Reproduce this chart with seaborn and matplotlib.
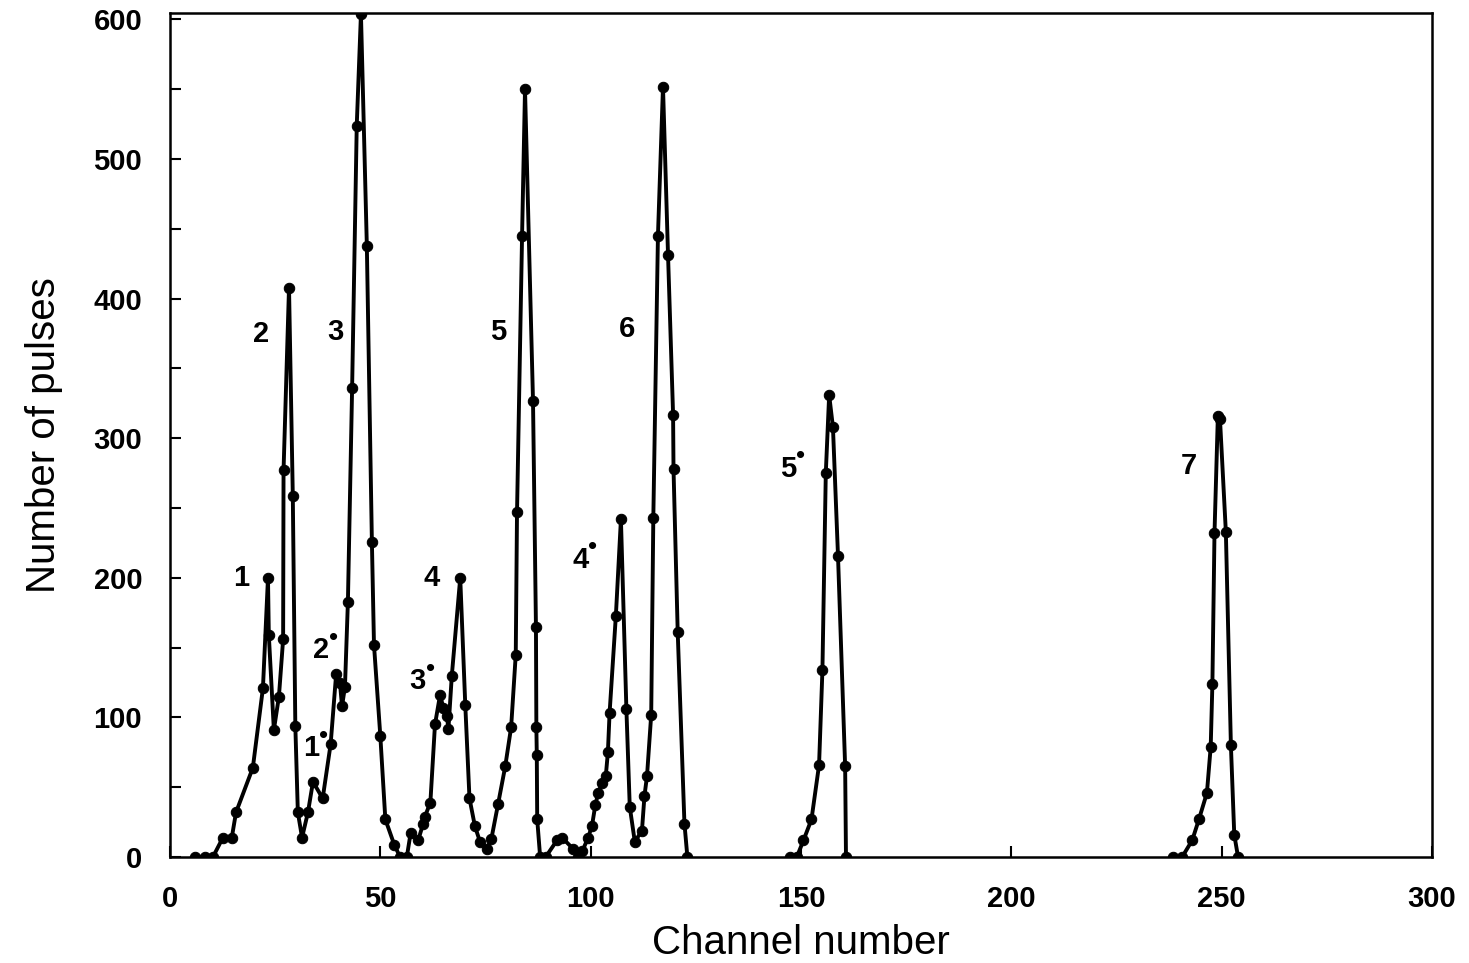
import matplotlib
matplotlib.use("Agg")
import matplotlib.pyplot as plt
import numpy as np
import pandas as pd
import seaborn as sns

# channel / counts, one list per connected trace
seg1_x = [6.0, 8.3, 10.2, 12.6, 14.7, 15.7, 19.7, 22.1, 23.3, 23.5, 24.7, 25.9, 26.9, 27.0,
          28.3, 29.2, 29.8, 30.4, 31.4, 32.8, 34.0, 36.3, 38.2, 39.5, 40.4, 40.9, 41.6, 42.3,
          43.3, 44.4, 45.4, 46.8, 48.0, 48.5, 50.0, 51.2, 53.3, 54.7, 56.3, 57.2, 59.0, 60.2,
          60.6, 61.9, 63.0, 64.2, 65.0, 65.8, 66.2, 67.0, 69.0, 70.2, 71.2, 72.5, 73.7, 75.3,
          76.4, 78.0, 79.7, 81.1, 82.2, 82.5, 83.7, 84.4, 86.3, 87.0, 87.1, 87.2, 87.3, 88.0,
          89.3, 92.0, 93.2, 95.8, 97.0, 98.0, 99.4, 100.3, 101.1, 101.8, 102.7, 103.6, 104.1,
          104.5, 106.0, 107.2, 108.5, 109.3, 110.5, 112.2, 112.8, 113.4, 114.4, 114.9, 116.0,
          117.2, 118.4, 119.6, 119.7, 120.7, 122.3, 123.0]
seg1_y = [0, 0, 0, 14, 14, 32, 64, 121, 200, 159, 91, 115, 156, 277,
          408, 259, 94, 32, 14, 32, 54, 42, 81, 131, 125, 108, 122, 183,
          336, 524, 604, 438, 226, 152, 87, 27, 9, 0, 0, 17, 12, 24,
          29, 39, 95, 116, 107, 101, 92, 130, 200, 109, 42, 22, 11, 6,
          13, 38, 65, 93, 145, 247, 445, 550, 327, 165, 93, 73, 27, 0,
          0, 12, 14, 6, 0, 4, 14, 22, 37, 46, 53, 58, 75,
          103, 173, 242, 106, 36, 11, 19, 44, 58, 102, 243, 445,
          552, 431, 317, 278, 161, 24, 0]

seg2_x = [147.5, 149.0, 150.6, 152.5, 154.3, 155.1, 155.9, 156.7, 157.6, 158.8, 160.5, 160.7]
seg2_y = [0, 0, 12, 27, 66, 134, 275, 331, 308, 216, 65, 0]

seg3_x = [238.4, 240.6, 243.0, 244.6, 246.5, 247.4, 247.8, 248.3, 249.1, 249.6, 251.0, 252.2, 253.0, 253.9]
seg3_y = [0, 0, 12, 27, 46, 79, 124, 232, 316, 314, 233, 80, 16, 0]

# peak names; starred ones get a small raised dot
peak_labels = ["1", "2", "3", "4", "5", "6", "7", "1", "2", "3", "4", "5"]
peak_dotted = [False] * 7 + [True] * 5
label_x = [17.0, 21.6, 39.3, 62.2, 78.0, 108.6, 242.2, 33.6, 36.0, 58.9, 97.6, 146.9]
label_y = [200, 375, 376, 200, 376, 378, 280, 78, 148, 126, 213, 278]

df = pd.DataFrame({
    "channel": seg1_x + seg2_x + seg3_x,
    "pulses": seg1_y + seg2_y + seg3_y,
    "seg": [1] * len(seg1_x) + [2] * len(seg2_x) + [3] * len(seg3_x),
})

sns.set_style("ticks")
plt.rcParams["font.family"] = ["Liberation Sans", "DejaVu Sans"]
for k in ["text.color", "axes.labelcolor", "xtick.color", "ytick.color", "axes.edgecolor"]:
    plt.rcParams[k] = "black"

fig = plt.figure(figsize=(14.69, 9.63), dpi=100)
ax = fig.add_axes([0.1157, 0.110, 0.8591, 0.877])

sns.lineplot(data=df, x="channel", y="pulses", units="seg", estimator=None, sort=False,
             color="black", linewidth=2.8, marker="o", markersize=7.5,
             markeredgecolor="black", markerfacecolor="black", ax=ax)

for t, d, x, y in zip(peak_labels, peak_dotted, label_x, label_y):
    ax.text(x, y, t, fontsize=21, fontweight="bold", ha="center", va="center")
    if d:
        ax.annotate("\u2022", (x, y), xytext=(9, 9), textcoords="offset points",
                    fontsize=19, ha="center", va="center")

ax.set_xlim(0, 300)
ax.set_ylim(0, 605)
ax.set_xticks(np.arange(0, 301, 50))
ax.set_yticks(np.arange(0, 601, 100))
ax.set_yticks(np.arange(50, 600, 100), minor=True)
ax.tick_params(axis="both", which="major", direction="in", length=8, width=1.5,
               labelsize=21, pad=20)
ax.tick_params(axis="y", which="minor", direction="in", length=8, width=1.5)
for lab in ax.get_xticklabels() + ax.get_yticklabels():
    lab.set_fontweight("bold")

for s in ax.spines.values():
    s.set_linewidth(1.8)
    s.set_color("black")

ax.set_xlabel("Channel number", fontsize=29, labelpad=8)
ax.set_ylabel("Number of pulses", fontsize=29, labelpad=22)

fig.savefig("out.png", dpi=100)
